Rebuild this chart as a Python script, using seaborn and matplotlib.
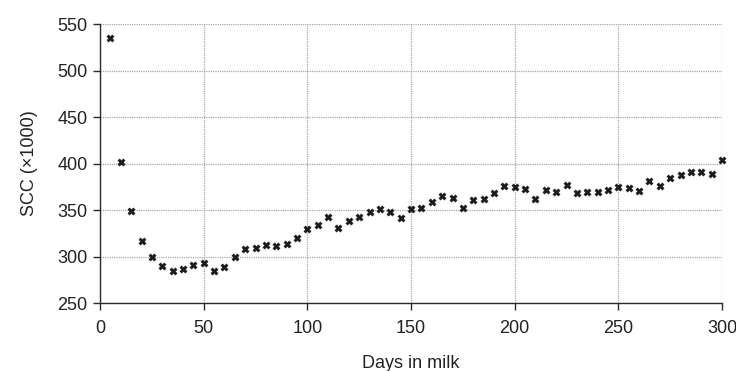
import numpy as np
import pandas as pd
import matplotlib
matplotlib.use("Agg")
import matplotlib.pyplot as plt
import seaborn as sns

# days in milk vs somatic cell count (x1000)
days = [5, 10, 15, 20, 25, 30, 35, 40, 45, 50,
        55, 60, 65, 70, 75, 80, 85, 90, 95, 100,
        105, 110, 115, 120, 125, 130, 135, 140, 145, 150,
        155, 160, 165, 170, 175, 180, 185, 190, 195, 200,
        205, 210, 215, 220, 225, 230, 235, 240, 245, 250,
        255, 260, 265, 270, 275, 280, 285, 290, 295, 300]
scc = [535, 402, 349, 317, 300, 290, 284, 287, 291, 293,
       285, 289, 300, 308, 309, 312, 311, 314, 320, 330,
       334, 343, 331, 338, 343, 348, 351, 348, 341, 351,
       352, 359, 365, 363, 352, 361, 362, 368, 376, 375,
       373, 362, 372, 369, 377, 368, 369, 369, 372, 375,
       374, 371, 381, 376, 385, 388, 391, 391, 389, 404]

x_ticks = [0, 50, 100, 150, 200, 250, 300]
y_ticks = [250, 300, 350, 400, 450, 500, 550]

df = pd.DataFrame({"days": days, "scc": scc})

sns.set_theme(style="white")
plt.rcParams["font.family"] = ["Liberation Sans", "DejaVu Sans"]

fig = plt.figure(figsize=(7.36, 3.71), dpi=100)
ax = fig.add_axes([0.136, 0.183, 0.845, 0.752])

sns.scatterplot(data=df, x="days", y="scc", ax=ax, marker="X",
                color="#1a1a1a", s=28, edgecolor="#1a1a1a", linewidth=0.3,
                clip_on=False, zorder=3)

ax.set_xlim(0, 300)
ax.set_ylim(250, 550)
ax.set_xticks(x_ticks)
ax.set_yticks(y_ticks)
ax.grid(True, color="#a8a8a8", linestyle=(0, (1, 0.8)), linewidth=0.9)
ax.set_axisbelow(True)

for side in ["top", "right"]:
    ax.spines[side].set_visible(False)
for side in ["left", "bottom"]:
    ax.spines[side].set_color("#2a2a2a")
    ax.spines[side].set_linewidth(1.0)

ax.tick_params(axis="both", direction="out", length=5, width=1,
               color="#2a2a2a", labelsize=13, labelcolor="#222222",
               left=True, bottom=True)
ax.tick_params(axis="x", pad=7)
ax.tick_params(axis="y", pad=4)

ax.set_xlabel("Days in milk", fontsize=13, color="#222222", labelpad=13)
ax.set_ylabel("SCC (\u00d71000)", fontsize=13, color="#222222", labelpad=14)

fig.savefig("out.png", dpi=100)
